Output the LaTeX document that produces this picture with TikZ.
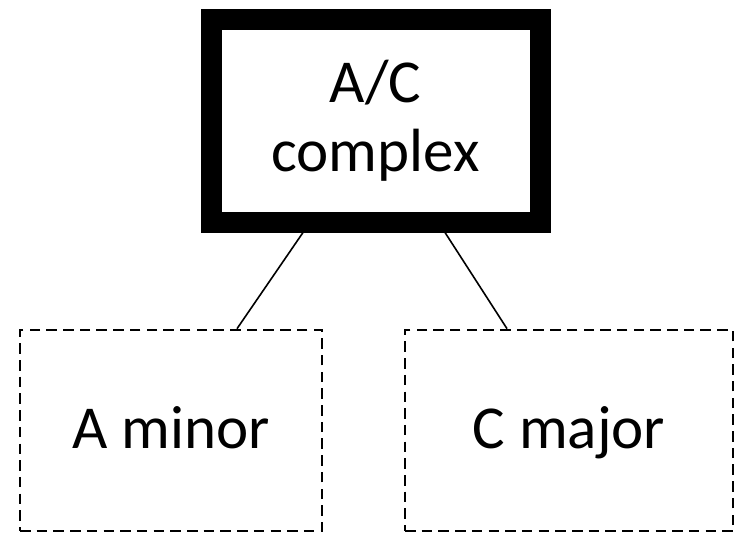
\documentclass[tikz,border=0pt]{standalone}
\usepackage{fontspec}
\setmainfont{Carlito}
\begin{document}
\begin{tikzpicture}[x=1pt,y=-1pt,
  topbox/.style={draw=black, line width=21pt, rectangle, inner sep=0pt,
    minimum width=329pt, minimum height=202pt, align=center,
    font=\fontsize{61}{69}\selectfont},
  leafbox/.style={draw=black, line width=2.6pt, dash pattern=on 10.5pt off 6.2pt,
    rectangle, inner sep=0pt, minimum height=201pt,
    text height=40pt, text depth=5pt,
    font=\fontsize{61}{69}\selectfont},
  link/.style={draw=black, line width=1.6pt}]
\useasboundingbox (0,0) rectangle (735,532);
\node[topbox] (top) at (375.5,121) {A/C\\complex};
\node[leafbox, minimum width=302pt] (amin) at (171,430.5) {A minor};
\node[leafbox, minimum width=328pt] (cmaj) at (569,430.5) {C major};
\draw[link] ([xshift=-72.5pt]top.south) -- ([xshift=66pt]amin.north);
\draw[link] ([xshift=69.5pt]top.south) -- ([xshift=-62pt]cmaj.north);
\end{tikzpicture}
\end{document}
